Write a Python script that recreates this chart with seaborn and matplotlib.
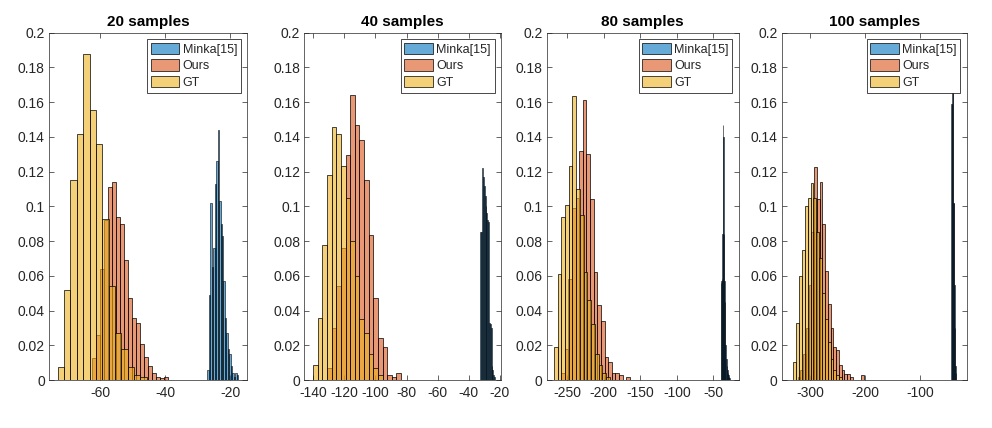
import numpy as np
import pandas as pd
import matplotlib
matplotlib.use("Agg")
import matplotlib.pyplot as plt
from matplotlib.patches import Patch
from matplotlib.ticker import FormatStrFormatter
import seaborn as sns

# ---- values (histogram probabilities per bin) ----
panel_titles = ["20 samples", "40 samples", "80 samples", "100 samples"]
series_names = ["Minka[15]", "Ours", "GT"]

# 20 samples
minka_20_first_edge, minka_20_bin_width = -27.0, 0.45
minka_20_probs = [0.006, 0.049, 0.102, 0.065, 0.076, 0.113, 0.126, 0.144, 0.103, 0.09,
                  0.083, 0.057, 0.036, 0.027, 0.018, 0.015, 0.008, 0.004, 0.002, 0.004, 0.003]
ours_20_first_edge, ours_20_bin_width = -62.56, 1.233
ours_20_probs = [0.0125, 0.026, 0.064, 0.092, 0.111, 0.114, 0.094, 0.090, 0.069, 0.047,
                 0.036, 0.033, 0.021, 0.013, 0.008, 0.004, 0.002, 0.001, 0.002]
gt_20_first_edge, gt_20_bin_width = -73.1, 1.96
gt_20_probs = [0.0073, 0.052, 0.115, 0.1415, 0.1875, 0.1555, 0.136, 0.0925, 0.054, 0.027,
               0.0177, 0.0073, 0.003, 0.002]

# 40 samples
minka_40_first_edge, minka_40_bin_width = -32.6, 0.55
minka_40_probs = [0.085, 0.085, 0.122, 0.117, 0.112, 0.106, 0.1, 0.096, 0.092, 0.091,
                  0.033, 0.032, 0.030, 0.008, 0.006, 0.003, 0.002]
ours_40_first_edge, ours_40_bin_width = -131.09, 2.97
ours_40_probs = [0.007, 0.03, 0.054, 0.076, 0.1295, 0.164, 0.147, 0.138, 0.115, 0.0835,
                 0.047, 0.024, 0.019, 0.003, 0.002, 0.004]
gt_40_first_edge, gt_40_bin_width = -140.0, 2.97
gt_40_probs = [0.0086, 0.0355, 0.078, 0.118, 0.1455, 0.1417, 0.123, 0.105, 0.08, 0.06,
               0.035, 0.027, 0.015, 0.007, 0.003]

# 80 samples
minka_80_first_edge, minka_80_bin_width = -39.6, 0.7
minka_80_probs = [0.056, 0.057, 0.058, 0.084, 0.147, 0.140, 0.084, 0.057, 0.045, 0.02,
                  0.012, 0.008, 0.006, 0.004, 0.003, 0.002, 0.001]
ours_80_first_edge, ours_80_bin_width = -258.2, 4.95
ours_80_probs = [0.004, 0.018, 0.058, 0.099, 0.105, 0.132, 0.161, 0.13, 0.104, 0.062,
                 0.043, 0.034, 0.0134, 0.0106, 0.004, 0.004, 0.003, 0.0, 0.0015]
gt_80_first_edge, gt_80_bin_width = -268.2, 5.1
gt_80_probs = [0.019, 0.061, 0.094, 0.101, 0.123, 0.1635, 0.11, 0.095, 0.062, 0.046,
               0.032, 0.015, 0.0086, 0.004, 0.002]

# 100 samples (tallest Minka bin is hidden behind the legend)
minka_100_first_edge, minka_100_bin_width = -43.0, 0.9
minka_100_probs = [0.159, 0.159, 0.18, 0.18, 0.102, 0.102, 0.055, 0.03, 0.008, 0.004]
ours_100_first_edge, ours_100_bin_width = -322.7, 5.0
ours_100_probs = [0.002, 0.006, 0.015, 0.03, 0.055, 0.085, 0.1228, 0.104, 0.114, 0.09,
                  0.063, 0.044, 0.03, 0.019, 0.017, 0.0086, 0.006, 0.0035, 0.0035, 0.0015,
                  0.0, 0.0, 0.0, 0.003]
gt_100_first_edge, gt_100_bin_width = -330.3, 5.2
gt_100_probs = [0.0106, 0.033, 0.06, 0.075, 0.1, 0.105, 0.1136, 0.105, 0.085, 0.07,
                0.05, 0.035, 0.022, 0.012, 0.006, 0.003, 0.002]

x_ticks = [[-60, -40, -20],
           [-140, -120, -100, -80, -60, -40, -20],
           [-250, -200, -150, -100, -50],
           [-300, -200, -100]]
x_limits = [(-75.8, -14.8), (-145.7, -19.5), (-278.0, -15.3), (-351.5, -15.2)]

panels = [
    [(minka_20_first_edge, minka_20_bin_width, minka_20_probs),
     (ours_20_first_edge, ours_20_bin_width, ours_20_probs),
     (gt_20_first_edge, gt_20_bin_width, gt_20_probs)],
    [(minka_40_first_edge, minka_40_bin_width, minka_40_probs),
     (ours_40_first_edge, ours_40_bin_width, ours_40_probs),
     (gt_40_first_edge, gt_40_bin_width, gt_40_probs)],
    [(minka_80_first_edge, minka_80_bin_width, minka_80_probs),
     (ours_80_first_edge, ours_80_bin_width, ours_80_probs),
     (gt_80_first_edge, gt_80_bin_width, gt_80_probs)],
    [(minka_100_first_edge, minka_100_bin_width, minka_100_probs),
     (ours_100_first_edge, ours_100_bin_width, ours_100_probs),
     (gt_100_first_edge, gt_100_bin_width, gt_100_probs)],
]

# ---- style ----
colors = [(0.0, 0.447, 0.741), (0.85, 0.325, 0.098), (0.929, 0.694, 0.125)]
edge_widths = [0.4, 0.5, 0.5]
face_alpha = 0.6
axis_grey = (0.15, 0.15, 0.15)

sns.set_style("ticks")
plt.rcParams["font.family"] = ["Liberation Sans", "DejaVu Sans"]
plt.rcParams["axes.unicode_minus"] = False
plt.rcParams["axes.linewidth"] = 0.5
plt.rcParams["axes.edgecolor"] = axis_grey
plt.rcParams["xtick.color"] = axis_grey
plt.rcParams["ytick.color"] = axis_grey


def bin_table(first_edge, bin_width, probs):
    n = len(probs)
    edges = first_edge + bin_width * np.arange(n + 1)
    centers = edges[:-1] + bin_width / 2
    return pd.DataFrame({"center": centers, "prob": probs}), edges.tolist()


fig = plt.figure(figsize=(9.92, 4.28), dpi=100)
fig.patch.set_facecolor("white")

# axes rectangles in figure fraction (MATLAB-like subplot layout)
rects = [(0.0494, 0.1121, 0.1996, 0.8115),
         (0.3068, 0.1121, 0.1980, 0.8115),
         (0.5511, 0.1121, 0.1935, 0.8115),
         (0.7880, 0.1121, 0.1865, 0.8115)]

for i, rect in enumerate(rects):
    ax = fig.add_axes(rect)
    for (first_edge, width, probs), col, lw in zip(panels[i], colors, edge_widths):
        df, edges = bin_table(first_edge, width, probs)
        n0 = len(ax.patches)
        sns.histplot(data=df, x="center", weights="prob", bins=edges, stat="count",
                     ax=ax, color=col, alpha=face_alpha, edgecolor="black", linewidth=lw)
        for p in ax.patches[n0:]:
            p.set_alpha(None)
            p.set_facecolor((*col, face_alpha))
            p.set_edgecolor("black")

    ax.set_xlim(*x_limits[i])
    ax.set_ylim(0, 0.2)
    ax.set_xticks(x_ticks[i])
    ax.set_yticks(np.linspace(0, 0.2, 11))
    ax.yaxis.set_major_formatter(FormatStrFormatter("%g"))
    ax.set_xlabel("")
    ax.set_ylabel("")
    ax.tick_params(direction="in", length=3.5, width=0.5, labelsize=10,
                   top=True, right=True, pad=3)
    ax.tick_params(axis="x", pad=4.5)
    for s in ax.spines.values():
        s.set_visible(True)
        s.set_linewidth(0.5)
        s.set_color(axis_grey)
    ax.set_title(panel_titles[i], fontsize=11, fontweight="bold", pad=5, color="black")

    handles = [Patch(facecolor=(*c, face_alpha), edgecolor="black", linewidth=0.5)
               for c in colors]
    leg = ax.legend(handles, series_names, loc="upper right", fontsize=9,
                    handlelength=2.3, handleheight=1.0, labelspacing=0.3,
                    handletextpad=0.25, borderpad=0.3, borderaxespad=0.5,
                    fancybox=False, framealpha=1, edgecolor="black")
    leg.get_frame().set_linewidth(0.5)

fig.savefig("out.png", dpi=100, facecolor="white")
